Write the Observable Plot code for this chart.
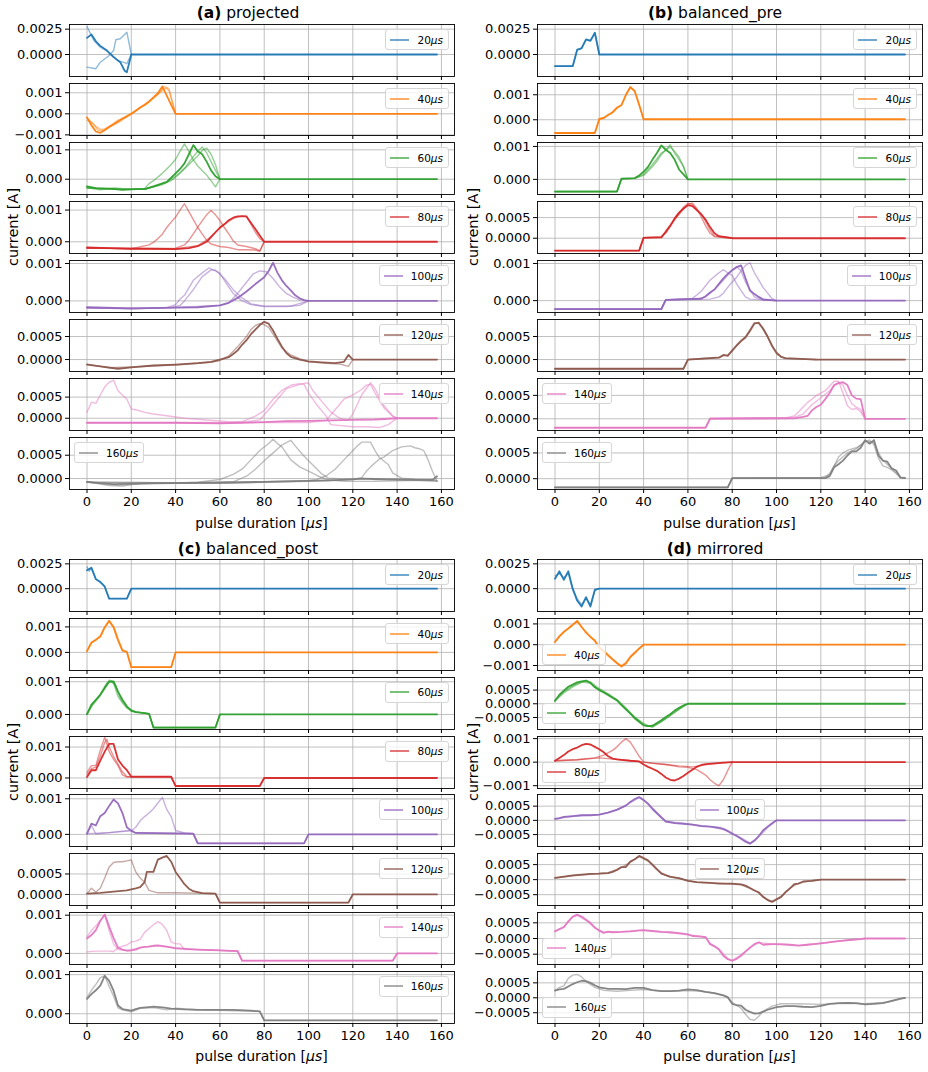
<!DOCTYPE html>
<html><head><meta charset="utf-8">
<script src="https://cdn.jsdelivr.net/npm/d3@7"></script>
<script src="https://cdn.jsdelivr.net/npm/@observablehq/plot@0.6"></script>
<style>
body{margin:0;background:#fff;}
#fig{position:relative;width:928px;height:1072px;font-family:"DejaVu Sans",sans-serif;color:#000;overflow:hidden;background:#fff;}
.abs{position:absolute;}
.title{font-size:15.5px;white-space:nowrap;transform:translate(-50%,-50%);}
.xlab{font-size:14px;white-space:nowrap;transform:translate(-50%,-50%);}
.ylab{font-size:14.5px;white-space:nowrap;transform:translate(-50%,-50%) rotate(-90deg);}
.leg{box-sizing:border-box;height:21px;border:1px solid #d6d6d6;border-radius:3px;background:rgba(255,255,255,0.8);display:flex;align-items:center;padding:0 5px 0 4px;font-size:10.5px;white-space:nowrap;}
</style></head><body><div id="fig"></div><script>
// ---------- categories ----------
const durations = [20, 40, 60, 80, 100, 120, 140, 160];
const colors = ["#1f77b4","#ff7f0e","#2ca02c","#d62728","#9467bd","#8c564b","#e377c2","#7f7f7f"];
const xTicks = [0, 20, 40, 60, 80, 100, 120, 140, 160];
const panelTags = ["(a)", "(b)", "(c)", "(d)"];
const panelNames = ["projected", "balanced_pre", "balanced_post", "mirrored"];

// ---------- series (x in µs, current in mA; first = solid trace, rest = faint traces) ----------
const a20 = [
 [0,1.64, 2,1.97, 4,1.3, 6,0.85, 9,0.39, 12,-0.26, 15,-0.76, 17,-1.6, 18,-1.74, 20,0, 158,0],
 [0,2.76, 3,1.4, 6,0.72, 9,0.35, 12,-0.2, 14,-0.6, 17,-0.8, 18,-0.9, 20,0],
 [0,-1.25, 4,-1.4, 6,-0.76, 10,-0.1, 12,0.39, 13,1.45, 15,1.55, 18,2.2, 20,0]];
const a40 = [
 [0,-0.17, 2,-0.55, 4,-0.84, 6,-0.9, 8,-0.78, 10,-0.62, 12,-0.5, 14,-0.37, 16,-0.22, 18,-0.12, 20,0, 22,0.15, 24,0.3, 26,0.42, 28,0.58, 30,0.78, 32,0.98, 34,1.3, 36,0.86, 38,0.42, 40,0, 158,0],
 [0,-0.3, 2,-0.4, 4,-0.6, 6,-0.74, 8,-0.72, 10,-0.6, 12,-0.45, 14,-0.3, 16,-0.24, 18,-0.1, 20,0, 24,0.3, 28,0.6, 32,0.9, 34,1.2, 35,1.3, 37,1.1, 40,0],
 [0,-0.2, 3,-0.5, 5,-0.78, 7,-0.8, 10,-0.65, 14,-0.42, 18,-0.15, 20,0, 24,0.28, 28,0.55, 32,0.95, 36,1.25, 37,1.2, 40,0]];
const a60 = [
 [0,-0.24, 4,-0.3, 10,-0.32, 16,-0.36, 22,-0.34, 26,-0.34, 30,-0.24, 34,-0.14, 36,-0.09, 38,0.05, 40,0.2, 42,0.35, 44,0.54, 46,0.85, 48,1.16, 50,0.95, 52,0.85, 54,0.6, 56,0.3, 58,0.1, 60,0, 158,0],
 [0,-0.28, 6,-0.36, 12,-0.3, 20,-0.34, 26,-0.32, 28,-0.15, 30,-0.05, 34,0.2, 36,0.35, 38,0.5, 40,0.68, 42,0.95, 44,1.2, 46,0.95, 48,0.66, 50,0.45, 54,0.14, 56,-0.05, 58,-0.26, 60,0],
 [0,-0.3, 8,-0.32, 16,-0.34, 26,-0.34, 32,-0.22, 36,-0.1, 40,0.1, 44,0.37, 48,0.77, 50,0.95, 52,1.1, 54,0.9, 56,0.6, 58,0.3, 60,0],
 [0,-0.3, 10,-0.34, 26,-0.34, 34,-0.18, 38,-0.05, 42,0.2, 46,0.5, 50,0.8, 52,0.98, 54,1.06, 56,0.85, 58,0.5, 60,0]];
const a80 = [
 [0,-0.18, 10,-0.2, 20,-0.22, 30,-0.22, 40,-0.23, 46,-0.2, 50,-0.14, 54,0.0, 56,0.15, 58,0.3, 60,0.45, 62,0.55, 64,0.68, 66,0.76, 68,0.8, 70,0.8, 72,0.8, 74,0.6, 76,0.4, 78,0.2, 80,0, 158,0],
 [0,-0.2, 20,-0.22, 28,-0.1, 30,-0.02, 32,0.1, 34,0.24, 36,0.45, 38,0.62, 40,0.78, 42,1.0, 44,1.2, 46,0.95, 48,0.7, 50,0.45, 52,0.25, 54,0.05, 56,-0.07, 60,-0.15, 64,-0.18, 68,-0.25, 72,-0.25, 76,-0.26, 78,-0.3, 80,0],
 [0,-0.2, 30,-0.22, 40,-0.2, 44,-0.1, 46,0.05, 48,0.25, 50,0.46, 52,0.66, 54,0.85, 56,0.99, 58,0.85, 60,0.67, 62,0.45, 64,0.25, 66,0.03, 68,-0.1, 72,-0.15, 76,-0.22, 78,-0.29, 80,0],
 [0,-0.2, 40,-0.22, 50,-0.12, 54,0.05, 58,0.3, 62,0.55, 66,0.74, 68,0.78, 70,0.82, 72,0.8, 74,0.55, 76,0.3, 78,0.1, 80,0]];
const a100 = [
 [0,-0.17, 20,-0.2, 40,-0.18, 50,-0.17, 60,-0.12, 64,-0.05, 68,0.08, 72,0.25, 76,0.45, 80,0.63, 82,0.8, 84,1.02, 86,0.75, 88,0.55, 90,0.4, 92,0.28, 94,0.15, 96,0.07, 98,0.02, 100,0, 158,0],
 [0,-0.18, 20,-0.22, 36,-0.18, 40,-0.1, 42,0.05, 44,0.15, 46,0.35, 48,0.55, 52,0.75, 55,0.88, 58,0.8, 60,0.74, 62,0.55, 64,0.37, 66,0.2, 70,0.0, 74,-0.1, 80,-0.15, 90,-0.15, 96,-0.12, 100,0],
 [0,-0.2, 20,-0.2, 38,-0.18, 42,-0.12, 44,0.0, 48,0.3, 52,0.65, 56,0.83, 58,0.82, 62,0.6, 66,0.3, 70,0.08, 74,-0.08, 80,-0.14, 92,-0.14, 100,0],
 [0,-0.18, 30,-0.2, 50,-0.15, 60,-0.12, 64,-0.05, 68,0.2, 72,0.5, 75,0.72, 78,0.8, 81,0.78, 84,0.6, 87,0.37, 90,0.2, 93,0.1, 96,0.03, 100,0]];
const a120 = [
 [0,-0.11, 6,-0.15, 14,-0.2, 20,-0.17, 30,-0.13, 40,-0.11, 50,-0.08, 56,-0.05, 60,0.0, 64,0.05, 66,0.12, 68,0.2, 70,0.32, 72,0.42, 74,0.55, 76,0.65, 78,0.75, 80,0.82, 82,0.78, 84,0.63, 86,0.45, 88,0.28, 90,0.14, 92,0.06, 96,0.0, 100,-0.04, 106,-0.06, 112,-0.08, 116,-0.05, 118,0.1, 120,0, 158,0],
 [0,-0.1, 10,-0.18, 20,-0.16, 40,-0.12, 56,-0.06, 60,-0.02, 64,0.08, 68,0.28, 72,0.5, 74,0.65, 76,0.74, 78,0.78, 80,0.76, 82,0.7, 84,0.55, 86,0.4, 88,0.25, 92,0.1, 96,0.02, 100,-0.05, 108,-0.08, 114,-0.1, 116,-0.12, 118,-0.15, 120,0]];
const a140 = [
 [0,-0.11, 20,-0.11, 40,-0.11, 60,-0.12, 70,-0.11, 80,-0.09, 90,-0.07, 100,-0.06, 110,-0.05, 120,-0.04, 130,-0.03, 140,0, 158,0],
 [0,0.14, 2,0.38, 4,0.35, 6,0.55, 8,0.74, 10,0.85, 12,0.9, 14,0.65, 16,0.55, 18,0.45, 20,0.22, 22,0.2, 26,0.14, 30,0.1, 36,0.06, 44,0.0, 54,-0.04, 64,-0.08, 74,-0.1, 86,-0.1, 100,-0.1, 108,-0.05, 112,0.2, 116,0.45, 120,0.55, 124,0.68, 126,0.78, 128,0.8, 130,0.6, 134,0.25, 138,0.05, 140,0],
 [0,-0.1, 40,-0.1, 60,-0.12, 70,-0.08, 76,0.05, 80,0.18, 84,0.45, 88,0.66, 92,0.78, 96,0.82, 98,0.8, 100,0.6, 104,0.3, 108,0.05, 110,-0.15, 120,-0.2, 126,-0.2, 132,-0.22, 136,-0.15, 140,0],
 [0,-0.1, 40,-0.1, 70,-0.1, 78,-0.04, 82,0.2, 86,0.45, 90,0.7, 96,0.8, 100,0.84, 102,0.65, 106,0.4, 110,0.15, 114,0.0, 118,-0.05, 120,0.1, 124,0.55, 128,0.84, 130,0.7, 134,0.3, 138,0.05, 140,0]];
const a160 = [
 [0,-0.07, 6,-0.1, 12,-0.12, 20,-0.11, 40,-0.1, 60,-0.09, 80,-0.07, 100,-0.05, 110,-0.04, 120,-0.02, 124,0.0, 130,-0.01, 140,-0.02, 150,-0.03, 156,-0.03, 158,0.05],
 [0,-0.07, 10,-0.15, 16,-0.16, 24,-0.1, 40,-0.1, 50,-0.08, 60,-0.02, 66,0.09, 70,0.2, 74,0.4, 78,0.6, 82,0.75, 84,0.84, 86,0.75, 88,0.68, 92,0.4, 96,0.25, 100,0.16, 104,0.06, 108,-0.02, 116,-0.06, 130,-0.06, 140,-0.05, 150,-0.04, 158,-0.05],
 [0,-0.08, 14,-0.14, 30,-0.1, 60,-0.08, 66,-0.07, 72,0.05, 76,0.2, 80,0.38, 84,0.55, 88,0.72, 92,0.82, 94,0.7, 97,0.53, 100,0.38, 103,0.24, 106,0.1, 109,0.01, 116,-0.01, 124,0.0, 130,-0.02, 140,-0.04, 150,-0.04, 158,-0.06],
 [0,-0.08, 40,-0.09, 80,-0.07, 100,-0.04, 104,-0.02, 108,0.06, 112,0.2, 116,0.4, 118,0.5, 122,0.7, 124,0.78, 128,0.78, 130,0.6, 132,0.45, 136,0.3, 138,0.12, 142,0.01, 148,-0.02, 158,-0.04],
 [0,-0.08, 60,-0.1, 100,-0.06, 120,-0.02, 124,0.02, 126,0.15, 128,0.25, 132,0.42, 134,0.46, 138,0.6, 142,0.68, 146,0.7, 148,0.66, 150,0.64, 152,0.6, 154,0.4, 156,0.15, 158,-0.06]];

const b20 = [
 [0,-1.15, 8,-1.15, 10,0.45, 12,0.6, 14,1.5, 16,1.35, 18,2.15, 20,0, 158,0],
 [0,-1.15, 8,-1.15, 10,0.5, 12,0.65, 14,1.45, 16,1.4, 18,2.1, 20,0]];
const b40 = [
 [0,-0.53, 18,-0.53, 20,0.03, 22,0.07, 24,0.19, 26,0.3, 28,0.48, 30,0.58, 32,1.0, 34,1.3, 36,1.15, 38,0.6, 40,0.02, 158,0.02],
 [0,-0.53, 18,-0.53, 20,0.03, 22,0.08, 24,0.2, 26,0.28, 28,0.5, 30,0.6, 32,0.95, 34,1.32, 36,1.12, 38,0.58, 40,0.02]];
const b60 = [
 [0,-0.37, 28,-0.37, 30,0.02, 36,0.04, 38,0.12, 40,0.23, 42,0.38, 44,0.6, 46,0.8, 48,1.03, 50,0.9, 52,0.8, 54,0.6, 56,0.3, 58,0.15, 60,0, 158,0],
 [0,-0.37, 28,-0.37, 30,0.02, 36,0.03, 40,0.12, 44,0.38, 46,0.55, 48,0.75, 50,0.9, 52,1.05, 54,0.8, 56,0.6, 58,0.4, 60,0],
 [0,-0.37, 28,-0.37, 30,0.02, 36,0.03, 40,0.15, 44,0.45, 48,0.8, 50,0.88, 52,0.98, 54,0.85, 56,0.68, 58,0.38, 60,0]];
const b80 = [
 [0,-0.3, 38,-0.3, 40,0.01, 48,0.02, 50,0.15, 52,0.3, 54,0.48, 56,0.62, 58,0.72, 60,0.8, 62,0.78, 64,0.68, 66,0.58, 68,0.45, 70,0.27, 72,0.12, 74,0.05, 78,0.02, 80,0, 158,0],
 [0,-0.3, 38,-0.3, 40,0.01, 48,0.04, 50,0.12, 52,0.28, 54,0.45, 56,0.6, 58,0.75, 60,0.85, 62,0.82, 64,0.7, 66,0.6, 68,0.4, 70,0.2, 72,0.05, 76,0.02, 80,0],
 [0,-0.3, 38,-0.3, 40,0.02, 48,0.02, 50,0.18, 54,0.45, 58,0.7, 60,0.82, 62,0.85, 64,0.72, 66,0.52, 68,0.3, 70,0.12, 72,0.04, 80,0]];
const b100 = [
 [0,-0.23, 48,-0.23, 50,0.02, 66,0.05, 68,0.12, 70,0.22, 72,0.3, 74,0.45, 76,0.6, 78,0.72, 80,0.82, 82,0.9, 84,0.95, 86,0.6, 88,0.27, 90,0.18, 92,0.1, 94,0.03, 100,0, 158,0],
 [0,-0.23, 48,-0.23, 50,0.02, 58,0.05, 62,0.06, 64,0.15, 66,0.25, 68,0.4, 70,0.55, 72,0.65, 74,0.75, 76,0.83, 78,0.75, 80,0.68, 82,0.45, 84,0.27, 86,0.1, 88,0.04, 100,0],
 [0,-0.23, 48,-0.23, 50,0.02, 70,0.04, 74,0.1, 76,0.2, 78,0.36, 80,0.5, 82,0.63, 84,0.8, 86,0.95, 88,1.02, 90,0.75, 92,0.55, 94,0.35, 96,0.2, 98,0.05, 100,0],
 [0,-0.23, 48,-0.23, 50,0.02, 64,0.04, 68,0.1, 72,0.3, 76,0.55, 80,0.82, 82,0.92, 84,0.8, 86,0.5, 88,0.3, 90,0.1, 94,0.02, 100,0]];
const b120 = [
 [0,-0.2, 58,-0.2, 60,0.0, 74,0.04, 76,0.1, 78,0.08, 80,0.2, 82,0.3, 84,0.4, 86,0.48, 88,0.62, 90,0.78, 92,0.8, 94,0.67, 96,0.5, 98,0.3, 100,0.15, 102,0.06, 104,0.03, 118,0.0, 158,0],
 [0,-0.2, 58,-0.2, 60,0.0, 74,0.05, 76,0.08, 78,0.1, 80,0.18, 82,0.32, 84,0.42, 86,0.5, 88,0.65, 90,0.8, 92,0.78, 94,0.65, 96,0.48, 98,0.28, 100,0.12, 104,0.02, 118,0.0]];
const b140 = [
 [0,-0.19, 68,-0.19, 70,0.0, 108,0.01, 112,0.04, 114,0.06, 116,0.18, 118,0.25, 120,0.3, 122,0.42, 124,0.55, 126,0.72, 128,0.76, 130,0.78, 132,0.72, 134,0.5, 136,0.43, 138,0.42, 140,0, 158,0],
 [0,-0.19, 68,-0.19, 70,0.01, 104,0.02, 108,0.06, 110,0.15, 112,0.25, 114,0.35, 116,0.42, 118,0.5, 120,0.55, 122,0.6, 124,0.7, 126,0.8, 128,0.8, 130,0.55, 132,0.28, 134,0.2, 136,0.22, 138,0.15, 140,0],
 [0,-0.19, 68,-0.19, 70,0.01, 108,0.03, 112,0.1, 116,0.3, 120,0.45, 124,0.6, 126,0.7, 128,0.78, 130,0.72, 132,0.5, 134,0.32, 136,0.25, 138,0.2, 140,0]];
const b160 = [
 [0,-0.17, 78,-0.17, 80,0.01, 122,0.01, 124,0.05, 126,0.22, 128,0.28, 130,0.35, 132,0.45, 134,0.53, 136,0.53, 138,0.6, 140,0.75, 142,0.68, 144,0.75, 146,0.45, 148,0.35, 150,0.33, 152,0.2, 154,0.16, 156,0.02, 158,0.01],
 [0,-0.17, 78,-0.17, 80,0.01, 120,0.02, 124,0.08, 126,0.25, 128,0.42, 130,0.5, 132,0.55, 134,0.58, 136,0.6, 138,0.65, 140,0.73, 142,0.75, 144,0.66, 146,0.4, 148,0.25, 150,0.22, 152,0.17, 154,0.1, 156,0.02, 158,0.02],
 [0,-0.17, 78,-0.17, 80,0.01, 122,0.02, 124,0.1, 126,0.25, 128,0.35, 132,0.5, 136,0.58, 140,0.72, 142,0.72, 144,0.7, 146,0.5, 148,0.36, 152,0.2, 156,0.03, 158,0.02]];

const c20 = [
 [0,1.86, 2,2.1, 4,0.95, 6,0.7, 8,0.2, 10,-1.0, 18,-1.0, 20,0, 158,0],
 [0,2.2, 1,1.75, 2,2.15, 4,1.0, 6,0.6, 8,0.25, 10,-1.0, 18,-1.0, 20,0]];
const c40 = [
 [0,0.05, 2,0.38, 4,0.5, 6,0.62, 8,0.98, 10,1.24, 12,1.0, 14,0.5, 16,0.08, 18,0.02, 20,-0.58, 38,-0.58, 40,0, 158,0],
 [0,0.06, 2,0.4, 4,0.48, 6,0.65, 8,1.0, 10,1.22, 12,0.95, 14,0.45, 16,0.06, 18,0.02, 20,-0.58, 38,-0.58, 40,0]];
const c60 = [
 [0,0.01, 2,0.3, 4,0.45, 6,0.6, 8,0.8, 10,1.0, 12,1.01, 14,0.7, 16,0.45, 18,0.25, 20,0.12, 22,0.07, 26,0.04, 28,0.02, 30,-0.4, 58,-0.4, 60,0, 158,0],
 [0,0.02, 2,0.25, 4,0.4, 6,0.58, 8,0.85, 10,1.05, 12,0.95, 14,0.55, 16,0.35, 18,0.2, 20,0.1, 26,0.04, 28,0.02, 30,-0.4, 58,-0.4, 60,0],
 [0,0.0, 3,0.35, 6,0.62, 9,0.95, 11,1.03, 13,0.88, 15,0.5, 18,0.22, 22,0.08, 28,0.02, 30,-0.4, 58,-0.4, 60,0]];
const c80 = [
 [0,0.03, 2,0.25, 4,0.25, 6,0.56, 8,0.85, 10,1.1, 12,1.1, 14,0.6, 16,0.4, 18,0.25, 20,0.04, 38,0.04, 40,-0.26, 78,-0.26, 80,0, 158,0],
 [0,0.18, 2,0.4, 4,0.4, 6,0.9, 8,1.32, 10,0.85, 12,0.6, 14,0.4, 16,0.1, 18,0.03, 20,0.04, 38,0.04, 40,-0.26, 78,-0.26, 80,0],
 [0,0.1, 2,0.3, 4,0.35, 6,0.7, 8,1.15, 9,1.25, 10,1.0, 12,0.7, 14,0.45, 16,0.2, 18,0.05, 20,0.04]];
const c100 = [
 [0,0.02, 2,0.3, 4,0.25, 6,0.51, 8,0.6, 10,0.8, 12,0.98, 14,0.87, 16,0.6, 18,0.2, 20,0.1, 22,0.04, 48,0.02, 50,-0.25, 98,-0.25, 100,0, 158,0],
 [0,0.02, 10,0.05, 20,0.1, 22,0.2, 24,0.38, 26,0.5, 28,0.6, 30,0.72, 32,0.88, 34,1.04, 36,0.7, 38,0.5, 40,0.11, 44,0.04, 48,0.02, 50,-0.25, 98,-0.25, 100,0],
 [0,0.02, 2,0.25, 4,0.01, 10,0.05, 20,0.12, 22,0.04, 48,0.02, 50,-0.25]];
const c120 = [
 [0,0.02, 6,0.04, 12,0.07, 18,0.1, 22,0.15, 24,0.18, 26,0.3, 27,0.55, 30,0.55, 32,0.85, 34,0.9, 36,0.94, 38,0.8, 40,0.55, 42,0.4, 44,0.25, 46,0.14, 48,0.08, 52,0.03, 58,0.02, 60,-0.2, 118,-0.2, 120,0, 158,0],
 [0,0.02, 2,0.15, 4,0.06, 6,0.15, 8,0.4, 10,0.67, 12,0.78, 14,0.8, 16,0.8, 18,0.82, 20,0.84, 22,0.55, 24,0.4, 26,0.3, 28,0.1, 32,0.04, 40,0.04, 58,0.02, 60,-0.2, 118,-0.2, 120,0]];
const c140 = [
 [0,0.39, 2,0.48, 4,0.61, 6,0.85, 8,1.02, 10,0.7, 12,0.4, 14,0.15, 16,0.1, 18,0.07, 20,0.08, 22,0.1, 24,0.15, 26,0.17, 28,0.18, 30,0.2, 32,0.21, 36,0.18, 40,0.13, 50,0.1, 60,0.08, 68,0.06, 70,-0.19, 138,-0.19, 140,0, 158,0],
 [0,0.04, 4,0.06, 8,0.06, 10,0.06, 12,0.05, 14,0.15, 18,0.22, 20,0.3, 22,0.32, 24,0.37, 26,0.55, 28,0.65, 30,0.75, 32,0.83, 34,0.76, 36,0.6, 38,0.3, 40,0.25, 42,0.25, 44,0.1, 50,0.1, 60,0.08, 68,0.06, 70,-0.19, 138,-0.19, 140,0],
 [0,0.43, 2,0.6, 4,0.72, 6,0.87, 8,1.0, 10,0.6, 12,0.25, 14,0.1, 18,0.08, 24,0.15, 30,0.2, 40,0.15, 50,0.1, 68,0.06, 70,-0.19]];
const c160 = [
 [0,0.38, 2,0.5, 4,0.6, 6,0.72, 8,0.97, 10,0.84, 12,0.59, 14,0.21, 16,0.12, 18,0.1, 20,0.08, 22,0.12, 24,0.15, 28,0.17, 30,0.18, 34,0.16, 38,0.13, 44,0.11, 50,0.1, 60,0.1, 66,0.1, 74,0.08, 78,0.06, 80,-0.17, 158,-0.17],
 [0,0.42, 2,0.6, 4,0.75, 6,0.92, 8,0.97, 10,0.7, 12,0.45, 14,0.15, 16,0.1, 20,0.05, 24,0.14, 30,0.16, 36,0.1, 40,0.14, 50,0.1, 78,0.06, 80,-0.17, 158,-0.17]];

const d20 = [
 [0,1.0, 2,1.75, 4,0.9, 6,1.75, 8,0.0, 10,-1.2, 12,-1.8, 14,-0.85, 16,-1.8, 18,-0.1, 20,0, 158,0],
 [0,1.3, 2,1.5, 4,1.1, 6,1.55, 8,-0.1, 10,-1.0, 12,-1.6, 14,-1.0, 16,-1.6, 18,-0.2, 20,0]];
const d40 = [
 [0,0.13, 2,0.4, 4,0.62, 6,0.78, 8,0.95, 10,1.15, 12,0.85, 14,0.6, 16,0.37, 18,0.2, 20,-0.15, 22,-0.3, 24,-0.5, 26,-0.7, 28,-0.88, 30,-1.05, 32,-0.9, 34,-0.6, 36,-0.4, 38,-0.18, 40,0, 158,0],
 [0,0.15, 2,0.42, 4,0.6, 6,0.8, 8,0.98, 10,1.1, 12,0.88, 14,0.55, 16,0.4, 18,0.15, 20,-0.12, 22,-0.35, 24,-0.55, 26,-0.72, 28,-0.92, 30,-1.0, 32,-0.85, 34,-0.55, 36,-0.35, 38,-0.2, 40,0]];
const d60 = [
 [0,0.11, 2,0.33, 4,0.48, 6,0.62, 8,0.7, 10,0.78, 12,0.82, 14,0.85, 16,0.76, 18,0.6, 20,0.5, 22,0.42, 24,0.33, 26,0.22, 28,0.12, 30,-0.05, 32,-0.2, 34,-0.35, 36,-0.52, 38,-0.65, 40,-0.78, 42,-0.82, 44,-0.8, 46,-0.7, 48,-0.6, 50,-0.48, 52,-0.38, 54,-0.25, 56,-0.15, 58,-0.06, 60,0, 158,0],
 [0,0.1, 4,0.4, 8,0.62, 12,0.78, 14,0.84, 16,0.8, 20,0.55, 24,0.36, 28,0.15, 32,-0.15, 36,-0.48, 40,-0.72, 42,-0.8, 44,-0.85, 46,-0.75, 50,-0.55, 54,-0.32, 58,-0.1, 60,0],
 [0,0.12, 4,0.45, 8,0.66, 12,0.8, 16,0.75, 20,0.5, 24,0.3, 28,0.14, 32,-0.2, 36,-0.55, 40,-0.8, 44,-0.84, 48,-0.65, 52,-0.42, 56,-0.2, 60,0]];
const d80 = [
 [0,0.06, 2,0.18, 4,0.3, 6,0.45, 8,0.55, 10,0.62, 12,0.72, 14,0.78, 16,0.75, 18,0.65, 20,0.55, 22,0.42, 24,0.25, 26,0.15, 28,0.12, 30,0.1, 34,0.06, 38,0.03, 40,-0.1, 42,-0.2, 44,-0.28, 46,-0.37, 48,-0.5, 50,-0.65, 52,-0.75, 54,-0.78, 56,-0.7, 58,-0.59, 60,-0.45, 62,-0.32, 64,-0.2, 66,-0.12, 68,-0.08, 72,-0.05, 76,-0.02, 80,0, 158,0],
 [0,0.06, 10,0.1, 18,0.18, 22,0.3, 26,0.5, 28,0.65, 30,0.85, 32,1.0, 34,0.85, 36,0.55, 38,0.25, 40,0.0, 44,-0.05, 50,-0.1, 56,-0.2, 60,-0.22, 64,-0.32, 68,-0.55, 70,-0.75, 72,-0.9, 74,-1.0, 76,-0.75, 78,-0.35, 80,0],
 [0,0.06, 10,0.1, 20,0.18, 30,0.1, 40,0.0, 50,-0.1, 56,-0.16, 62,-0.2, 66,-0.15, 70,-0.08, 74,-0.05, 80,0]];
const d100 = [
 [0,0.05, 2,0.08, 4,0.12, 8,0.15, 12,0.18, 16,0.18, 20,0.2, 24,0.27, 28,0.38, 30,0.45, 32,0.52, 34,0.65, 36,0.75, 38,0.82, 40,0.72, 42,0.58, 44,0.4, 46,0.25, 48,0.1, 50,-0.04, 54,-0.1, 58,-0.12, 62,-0.15, 66,-0.2, 70,-0.22, 74,-0.26, 76,-0.3, 78,-0.38, 80,-0.47, 82,-0.55, 84,-0.65, 86,-0.75, 88,-0.82, 90,-0.72, 92,-0.55, 94,-0.35, 96,-0.22, 98,-0.1, 100,0, 158,0],
 [0,0.04, 4,0.1, 12,0.17, 20,0.2, 28,0.36, 34,0.62, 38,0.8, 42,0.6, 46,0.28, 50,-0.03, 60,-0.13, 70,-0.22, 78,-0.36, 84,-0.62, 88,-0.8, 92,-0.58, 96,-0.25, 100,0]];
const d120 = [
 [0,0.06, 4,0.1, 8,0.14, 12,0.17, 16,0.19, 20,0.2, 24,0.22, 26,0.26, 28,0.32, 30,0.42, 32,0.42, 34,0.6, 36,0.68, 38,0.79, 40,0.72, 42,0.64, 44,0.5, 46,0.35, 48,0.2, 50,0.15, 52,0.09, 56,0.05, 60,-0.04, 64,-0.08, 70,-0.11, 74,-0.13, 80,-0.13, 84,-0.16, 86,-0.2, 88,-0.28, 90,-0.36, 92,-0.42, 94,-0.58, 96,-0.68, 98,-0.74, 100,-0.66, 102,-0.58, 104,-0.42, 106,-0.3, 108,-0.15, 110,-0.13, 112,-0.06, 116,-0.04, 120,0, 158,0],
 [0,0.05, 8,0.13, 16,0.18, 24,0.23, 30,0.4, 34,0.58, 38,0.77, 42,0.62, 46,0.33, 50,0.14, 56,0.04, 64,-0.09, 74,-0.12, 84,-0.17, 90,-0.35, 96,-0.66, 98,-0.72, 102,-0.56, 106,-0.28, 110,-0.12, 116,-0.03, 120,0]];
const d140 = [
 [0,0.23, 2,0.3, 4,0.36, 6,0.55, 8,0.7, 10,0.76, 12,0.7, 14,0.6, 16,0.5, 18,0.35, 20,0.25, 22,0.18, 24,0.22, 26,0.2, 30,0.21, 34,0.23, 38,0.26, 40,0.27, 44,0.24, 48,0.21, 52,0.2, 56,0.17, 60,0.13, 62,0.08, 66,0.06, 68,0.04, 70,-0.18, 72,-0.25, 74,-0.35, 76,-0.55, 78,-0.66, 80,-0.71, 82,-0.65, 84,-0.55, 86,-0.42, 88,-0.3, 90,-0.18, 92,-0.12, 94,-0.2, 98,-0.18, 102,-0.18, 106,-0.2, 110,-0.23, 114,-0.2, 118,-0.17, 122,-0.14, 126,-0.1, 130,-0.07, 134,-0.04, 138,-0.02, 140,0, 158,0],
 [0,0.22, 4,0.38, 8,0.68, 10,0.74, 14,0.58, 18,0.33, 22,0.2, 30,0.22, 40,0.26, 50,0.2, 60,0.12, 68,0.05, 70,-0.15, 74,-0.33, 78,-0.64, 80,-0.7, 84,-0.52, 88,-0.28, 92,-0.13, 100,-0.19, 110,-0.22, 120,-0.15, 130,-0.07, 140,0]];
const d160 = [
 [0,0.24, 2,0.28, 4,0.3, 6,0.38, 8,0.46, 10,0.52, 12,0.57, 14,0.56, 16,0.5, 18,0.42, 20,0.35, 24,0.3, 28,0.3, 32,0.29, 36,0.33, 40,0.33, 44,0.26, 48,0.22, 52,0.22, 56,0.24, 60,0.28, 64,0.26, 68,0.2, 72,0.16, 76,0.08, 78,0.02, 80,-0.2, 82,-0.25, 84,-0.26, 86,-0.4, 88,-0.47, 90,-0.53, 92,-0.52, 94,-0.46, 96,-0.4, 100,-0.31, 104,-0.28, 108,-0.28, 112,-0.3, 116,-0.31, 120,-0.27, 124,-0.2, 128,-0.18, 132,-0.17, 136,-0.18, 140,-0.22, 144,-0.2, 148,-0.18, 152,-0.1, 156,-0.03, 158,0],
 [0,0.24, 2,0.35, 4,0.4, 6,0.65, 8,0.76, 10,0.78, 12,0.7, 14,0.55, 18,0.35, 22,0.25, 28,0.22, 34,0.25, 40,0.28, 46,0.24, 52,0.22, 60,0.24, 66,0.22, 72,0.15, 76,0.08, 78,0.0, 80,-0.15, 84,-0.35, 86,-0.55, 88,-0.72, 90,-0.75, 92,-0.62, 94,-0.45, 98,-0.28, 102,-0.2, 110,-0.2, 120,-0.22, 130,-0.18, 140,-0.2, 150,-0.15, 158,0]];

const projected = [a20, a40, a60, a80, a100, a120, a140, a160];
const balancedPre = [b20, b40, b60, b80, b100, b120, b140, b160];
const balancedPost = [c20, c40, c60, c80, c100, c120, c140, c160];
const mirrored = [d20, d40, d60, d80, d100, d120, d140, d160];

// ---------- y ranges and tick values (mA) ----------
const aDomains = [[-2.17,2.96],[-1.03,1.44],[-0.52,1.25],[-0.37,1.27],[-0.31,1.08],[-0.26,0.87],[-0.29,0.94],[-0.235,0.88]];
const bDomains = [[-2.17,2.96],[-0.63,1.45],[-0.46,1.12],[-0.37,0.89],[-0.32,1.08],[-0.26,0.87],[-0.25,0.86],[-0.21,0.80]];
const cDomains = [[-2.3,2.94],[-0.71,1.33],[-0.46,1.13],[-0.34,1.34],[-0.34,1.12],[-0.27,1.0],[-0.29,1.07],[-0.25,1.08]];
const dDomains = [[-2.3,2.94],[-1.24,1.26],[-0.94,0.96],[-1.12,1.09],[-0.92,0.91],[-0.86,0.87],[-0.83,0.83],[-0.86,0.88]];
const aTicks = [[0,2.5],[-1,0,1],[0,1],[0,1],[0,1],[0,0.5],[0,0.5],[0,0.5]];
const bTicks = [[0,2.5],[0,1],[0,1],[0,0.5],[0,1],[0,0.5],[0,0.5],[0,0.5]];
const cTicks = [[0,2.5],[0,1],[0,1],[0,1],[0,1],[0,0.5],[0,1],[0,1]];
const dTicks = [[0,2.5],[-1,0,1],[-0.5,0,0.5],[-1,0,1],[-0.5,0,0.5],[-0.5,0,0.5],[-0.5,0,0.5],[-0.5,0,0.5]];
const aLegend = ["ur","ur","ur","ur","ur","ur","ur","ul"];
const bLegend = ["ur","ur","ur","ur","ur","ur","ul","ul"];
const cLegend = ["ur","ur","ur","ur","ur","ur","ur","ur"];
const dLegend = ["ur","ll","ll","ll","uc","uc","ll","ll"];

// ---------- layout ----------
const fig = document.getElementById("fig");
const colLeft = [69, 537];
const frameW = 385;
const rowTop0 = [24, 559.3];
const pitch = [59.05, 58.77];
const frameH = 52;
const titleX = [248, 715];
const ylabX = [12.5, 473];
const tickFont = 13;

const panels = [
  {data: projected, dom: aDomains, ticks: aTicks, leg: aLegend, col: 0, row: 0},
  {data: balancedPre, dom: bDomains, ticks: bTicks, leg: bLegend, col: 1, row: 0},
  {data: balancedPost, dom: cDomains, ticks: cTicks, leg: cLegend, col: 0, row: 1},
  {data: mirrored, dom: dDomains, ticks: dTicks, leg: dLegend, col: 1, row: 1}
];

function toPts(flat) {
  const out = [];
  for (let i = 0; i < flat.length; i += 2) out.push({x: flat[i], y: flat[i + 1]});
  return out;
}
function fmtFor(ticks) {
  const step = ticks[1] - ticks[0];
  const dec = step === 1 ? 3 : 4;
  return d => (d / 1000).toFixed(dec).replace("-", "\u2212");
}
function addDiv(cls, html, styles) {
  const el = document.createElement("div");
  el.className = "abs " + cls;
  el.innerHTML = html;
  Object.assign(el.style, styles);
  fig.appendChild(el);
  return el;
}

panels.forEach((p, pi) => {
  const left = colLeft[p.col];
  const top0 = rowTop0[p.row];
  addDiv("title", `<b>${panelTags[pi]}</b> ${panelNames[pi]}`, {left: titleX[p.col] + "px", top: (top0 - 10.7) + "px"});
  const lastTop = top0 + 7 * pitch[p.row];
  addDiv("xlab", `pulse duration [<i>μs</i>]`, {left: (left + frameW / 2) + "px", top: (lastTop + frameH + 33.7) + "px"});
  const t3 = top0 + 3 * pitch[p.row];
  addDiv("ylab", "current [A]", {left: ylabX[p.col] + "px", top: (t3 + frameH / 2) + "px"});

  for (let i = 0; i < 8; i++) {
    const ft = top0 + i * pitch[p.row];
    const bottom = i === 7;
    const ml = 69, mr = 6, mt = 4, mb = bottom ? 26 : 6;
    const series = p.data[i];
    const color = colors[i];
    const yt = p.ticks[i];
    const marks = [
      Plot.gridX(xTicks, {stroke: "#b0b0b0", strokeOpacity: 1, strokeWidth: 0.8}),
      Plot.gridY(yt, {stroke: "#b0b0b0", strokeOpacity: 1, strokeWidth: 0.8})
    ];
    for (let s = series.length - 1; s >= 1; s--) {
      marks.push(Plot.line(toPts(series[s]), {x: "x", y: "y", stroke: color, strokeWidth: 1.4, strokeOpacity: 0.5}));
    }
    marks.push(Plot.line(toPts(series[0]), {x: "x", y: "y", stroke: color, strokeWidth: 1.8, strokeOpacity: 0.95}));
    marks.push(Plot.frame({stroke: "#000", strokeWidth: 0.9}));
    marks.push(Plot.axisX(xTicks, {tickSize: 4, tickPadding: 3, tickFormat: bottom ? (d => String(d)) : (() => ""), label: null, fontSize: tickFont}));
    marks.push(Plot.axisY(yt, {tickSize: 4, tickPadding: 3, tickFormat: fmtFor(yt), label: null, fontSize: tickFont}));
    const svg = Plot.plot({
      width: ml + frameW + mr, height: mt + frameH + mb,
      marginLeft: ml, marginRight: mr, marginTop: mt, marginBottom: mb,
      x: {domain: [-7.9, 165.9]},
      y: {domain: p.dom[i]},
      style: {fontFamily: "DejaVu Sans, sans-serif", fontSize: tickFont + "px", color: "#000", background: "transparent", overflow: "visible"},
      marks
    });
    svg.style.position = "absolute";
    svg.style.left = (left - ml) + "px";
    svg.style.top = (ft - mt) + "px";
    fig.appendChild(svg);

    // legend
    const lg = document.createElement("div");
    lg.className = "abs leg";
    lg.innerHTML = `<svg width="19" height="4" style="margin-right:8px"><line x1="0" y1="2" x2="19" y2="2" stroke="${color}" stroke-width="1.6" stroke-opacity="0.8"/></svg><span>${durations[i]}<i>μs</i></span>`;
    const pos = p.leg[i];
    if (pos === "ur") { lg.style.right = (928 - (left + frameW) + 5) + "px"; lg.style.top = (ft + 5) + "px"; }
    else if (pos === "ul") { lg.style.left = (left + 5) + "px"; lg.style.top = (ft + 5) + "px"; }
    else if (pos === "ll") { lg.style.left = (left + 5) + "px"; lg.style.top = (ft + frameH - 5 - 21) + "px"; }
    else { lg.style.left = (left + frameW / 2) + "px"; lg.style.top = (ft + 5) + "px"; lg.style.transform = "translateX(-50%)"; }
    fig.appendChild(lg);
  }
});
</script></body></html>
